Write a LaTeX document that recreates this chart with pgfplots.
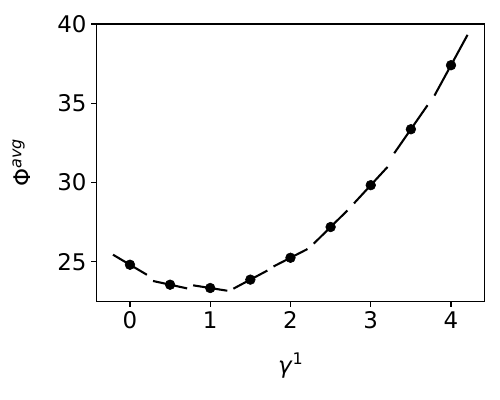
\documentclass[border=0pt]{standalone}
\usepackage{fontspec}
\setmainfont{DejaVu Sans}
\usepackage{pgfplots}
\pgfplotsset{compat=1.18}

\begin{document}
\begin{tikzpicture}
  % figure is 360 x 288 pt, the axis sits at the origin
  \path[use as bounding box] (-69.3pt,-70.8pt) rectangle (290.7pt,217.2pt);
  \begin{axis}[
      at={(0,0)}, anchor=south west,
      scale only axis,
      width=279.7pt, height=199.9pt,
      xmin=-0.42, xmax=4.42,
      ymin=22.48, ymax=40,
      xtick={0,1,2,3,4},
      ytick={25,30,35,40},
      tick align=outside,
      major tick length=3.5pt,
      xtick pos=bottom, ytick pos=left,
      axis line style={line width=0.8pt},
      every tick/.style={black, line width=0.8pt},
      /pgf/number format/assume math mode=true,
      tick label style={font=\fontsize{16.5}{19}\selectfont},
      xlabel={\textit{γ}\raisebox{0.42em}{\fontsize{11.5}{13}\selectfont 1}},
      ylabel={Φ\raisebox{0.42em}{\fontsize{11.5}{13}\selectfont\textit{avg}}},
      every axis x label/.style={at={(axis description cs:0.5,-0.26)}, anchor=base,
        font=\fontsize{16.5}{19}\selectfont},
      every axis y label/.style={at={(axis description cs:-0.168,0.5)}, rotate=90, anchor=base,
        font=\fontsize{16.5}{19}\selectfont},
      seg/.style={black, line width=1.5pt, line cap=rect, forget plot},
    ]
    % slope segments, one per point
    \addplot[seg] coordinates {(-0.2,25.41) (0.2,24.21)};
    \addplot[seg] coordinates {(0.3,23.77) (0.7,23.33)};
    \addplot[seg] coordinates {(0.8,23.50) (1.2,23.18)};
    \addplot[seg] coordinates {(1.3,23.33) (1.7,24.41)};
    \addplot[seg] coordinates {(1.8,24.73) (2.2,25.77)};
    \addplot[seg] coordinates {(2.3,26.19) (2.7,28.19)};
    \addplot[seg] coordinates {(2.8,28.73) (3.2,30.93)};
    \addplot[seg] coordinates {(3.3,31.90) (3.7,34.82)};
    \addplot[seg] coordinates {(3.8,35.54) (4.2,39.26)};
    % points
    \addplot[only marks, mark=*, mark size=3.5pt, black]
      coordinates {(0,24.81) (0.5,23.55) (1,23.34) (1.5,23.87) (2,25.25)
                   (2.5,27.19) (3,29.83) (3.5,33.36) (4,37.40)};
  \end{axis}
\end{tikzpicture}
\end{document}
